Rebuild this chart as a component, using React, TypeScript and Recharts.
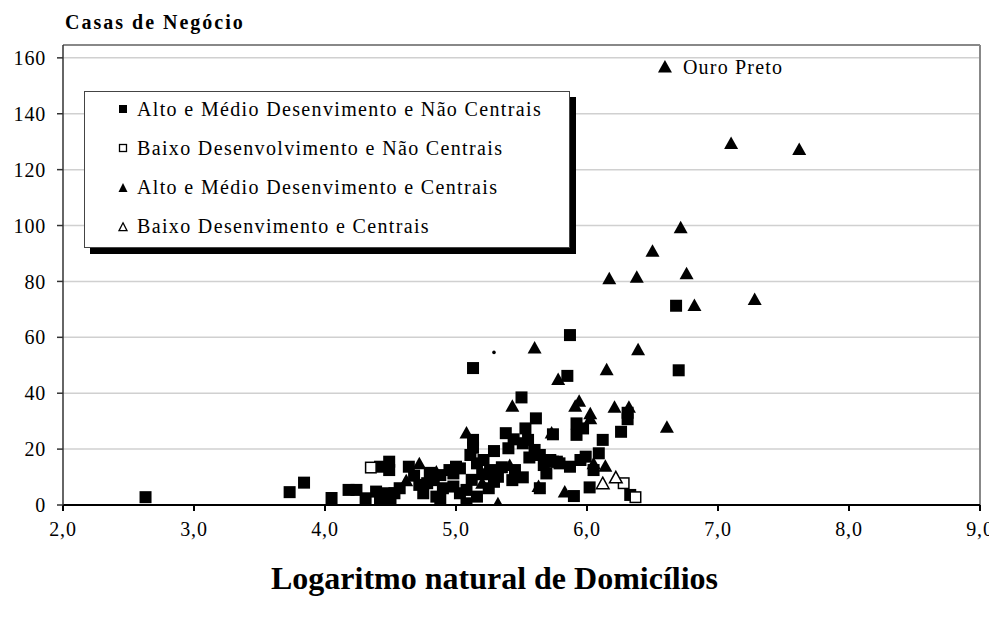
import React from "react";
import {
  ScatterChart,
  Scatter,
  XAxis,
  YAxis,
  CartesianGrid,
  ReferenceLine,
} from "recharts";

// ---- data: [ln(domicílios), casas de negócio] ----
const altoNaoCentrais: [number, number][] = [
  [2.63, 2.8], [3.73, 4.6], [3.84, 8.0], [4.05, 2.5], [4.18, 5.4], [4.24, 5.4],
  [4.31, 2.4], [4.39, 4.8], [4.42, 1.8], [4.42, 13.7], [4.49, 15.5], [4.49, 12.5],
  [4.48, 4.2], [4.5, 1.2], [4.53, 4.2], [4.57, 6.0], [4.64, 13.7], [4.68, 10.5],
  [4.72, 7.2], [4.75, 4.2], [4.78, 7.8], [4.8, 11.5], [4.83, 8.9], [4.85, 3.0],
  [4.88, 1.8], [4.88, 10.7], [4.9, 6.0], [4.95, 12.5], [4.98, 11.3], [4.98, 6.6],
  [5.0, 13.7], [5.03, 13.1], [5.03, 4.2], [5.08, 5.4], [5.08, 0.6], [5.11, 17.9],
  [5.13, 23.3], [5.13, 49.0], [5.13, 20.5], [5.16, 14.9], [5.16, 3.0], [5.12, 9.0],
  [5.21, 16.1], [5.2, 11.0], [5.26, 12.5], [5.25, 6.0], [5.29, 19.3], [5.29, 8.3],
  [5.32, 10.1], [5.35, 13.5], [5.38, 25.7], [5.4, 20.3], [5.43, 8.9], [5.44, 23.5],
  [5.45, 12.5], [5.5, 38.5], [5.51, 22.1], [5.51, 9.9], [5.53, 27.4], [5.55, 23.3],
  [5.56, 17.0], [5.6, 19.7], [5.61, 31.0], [5.64, 17.9], [5.64, 6.0], [5.67, 14.3],
  [5.69, 11.3], [5.72, 16.1], [5.74, 15.5], [5.74, 25.3], [5.77, 15.5], [5.79, 14.9],
  [5.85, 46.2], [5.87, 60.8], [5.87, 13.7], [5.9, 3.2], [5.92, 29.2], [5.92, 25.1],
  [5.95, 16.1], [5.97, 27.4], [5.99, 17.3], [6.02, 6.3], [6.05, 12.5], [6.09, 18.5],
  [6.12, 23.3], [6.26, 26.2], [6.31, 30.7], [6.31, 33.0], [6.33, 3.6], [6.68, 71.3],
  [6.7, 48.2],
];

const baixoNaoCentrais: [number, number][] = [
  [4.35, 13.4], [6.28, 7.8], [6.37, 2.8],
];

const altoCentrais: [number, number][] = [
  [4.62, 8.9], [4.72, 14.9], [4.85, 12.0], [5.08, 25.9], [5.2, 8.0], [5.32, 0.6],
  [5.41, 14.3], [5.43, 35.5], [5.6, 56.4], [5.63, 6.8], [5.73, 25.9], [5.78, 45.1],
  [5.83, 4.8], [5.91, 35.5], [5.94, 37.3], [6.025, 32.8], [6.025, 31.0], [6.05, 14.9],
  [6.14, 14.0], [6.15, 48.6], [6.17, 81.1], [6.21, 35.2], [6.32, 35.2], [6.38, 81.7],
  [6.39, 55.7], [6.5, 91.0], [6.61, 28.0], [6.715, 99.4], [6.76, 82.9], [6.82, 71.6],
  [7.1, 129.5], [7.28, 73.7], [7.62, 127.4],
];

const baixoCentrais: [number, number][] = [
  [6.12, 7.8], [6.22, 9.9],
];

const ouroPreto: [number, number] = [6.595, 156.9];
const ouroPretoName = "Ouro Preto";
const strayDot: [number, number][] = [[5.29, 54.6]];

const xTicks = [2, 3, 4, 5, 6, 7, 8, 9];
const yTicks = [0, 20, 40, 60, 80, 100, 120, 140, 160];

const legendLabels = [
  "Alto e Médio Desenvimento e Não Centrais",
  "Baixo Desenvolvimento e Não Centrais",
  "Alto e Médio Desenvimento e Centrais",
  "Baixo Desenvimento e Centrais",
];

const chartTitle = "Casas de Negócio";
const xTitle = "Logaritmo natural de Domicílios";

const toPts = (arr: [number, number][]) => arr.map(([x, y]) => ({ x, y }));

const FONT = "Liberation Serif, Tinos, DejaVu Serif, serif";

const FilledSquare = (p: any) => (
  <rect x={p.cx - 6} y={p.cy - 6} width={12} height={12} fill="#000" />
);
const OpenSquare = (p: any) => (
  <rect x={p.cx - 5.25} y={p.cy - 5.25} width={10.5} height={10.5} fill="#fff" stroke="#000" strokeWidth={1.5} />
);
const FilledTri = (p: any) => (
  <path d={`M${p.cx},${p.cy - 6.5} L${p.cx + 7},${p.cy + 6} L${p.cx - 7},${p.cy + 6} Z`} fill="#000" />
);
const OpenTri = (p: any) => (
  <path d={`M${p.cx},${p.cy - 6} L${p.cx + 6.3},${p.cy + 5.5} L${p.cx - 6.3},${p.cy + 5.5} Z`} fill="#fff" stroke="#000" strokeWidth={1.5} />
);
const Dot = (p: any) => <circle cx={p.cx} cy={p.cy} r={1.8} fill="#000" />;
const OuroShape = (p: any) => (
  <g>
    <path d={`M${p.cx},${p.cy - 6.5} L${p.cx + 7},${p.cy + 6} L${p.cx - 7},${p.cy + 6} Z`} fill="#000" />
    <text x={p.cx + 18} y={p.cy + 7} style={{ fontFamily: FONT }} fontSize={20} letterSpacing={1.2} fill="#000">
      {ouroPretoName}
    </text>
  </g>
);

const LegendIcon = ({ i }: { i: number }) => {
  if (i === 0) return <rect x={2} y={2} width={8} height={8} fill="#000" />;
  if (i === 1) return <rect x={2.5} y={2.5} width={7} height={7} fill="#fff" stroke="#000" strokeWidth={1.3} />;
  if (i === 2) return <path d="M6,1 L10.5,10 L1.5,10 Z" fill="#000" />;
  return <path d="M6,1.8 L10,9.6 L2,9.6 Z" fill="#fff" stroke="#000" strokeWidth={1.3} />;
};

const tickStyle = { fontFamily: FONT, fontSize: 20, fill: "#000", letterSpacing: 0.8 } as any;

export default function App() {
  return (
    <div style={{ position: "relative", width: 989, height: 610, background: "#fff", fontFamily: FONT }}>
      <style>{`html,body{overflow:hidden} .recharts-surface{overflow:visible}`}</style>
      <div
        style={{
          position: "absolute", left: 57, top: 4, fontWeight: "bold", fontSize: 20,
          letterSpacing: 2, lineHeight: "20px", whiteSpace: "nowrap",
        }}
      >
        {chartTitle}
      </div>
      <ScatterChart width={989} height={610} margin={{ top: 37, right: 17, bottom: 83, left: 0 }} style={{ fontFamily: FONT }}>
        <CartesianGrid horizontal vertical={false} stroke="#d0d0d0" strokeWidth={1.5} />
        <XAxis
          type="number" dataKey="x" domain={[2, 9]} ticks={xTicks} interval={0}
          tickFormatter={(v: number) => v.toFixed(1).replace(".", ",")}
          height={30} tickSize={6} tickMargin={11}
          stroke="#000" strokeWidth={2} tick={tickStyle} allowDataOverflow
        />
        <YAxis
          type="number" dataKey="y" domain={[0, 164.6]} ticks={yTicks} interval={0}
          width={55} tickSize={6} tickMargin={11}
          stroke="#333" strokeWidth={1.5} tick={tickStyle} allowDataOverflow
        />
        <ReferenceLine y={164.6} stroke="#888" strokeWidth={2} />
        <ReferenceLine x={9} stroke="#888" strokeWidth={2} />
        <Scatter data={toPts(altoNaoCentrais)} shape={FilledSquare} isAnimationActive={false} />
        <Scatter data={toPts(baixoNaoCentrais)} shape={OpenSquare} isAnimationActive={false} />
        <Scatter data={toPts(altoCentrais)} shape={FilledTri} isAnimationActive={false} />
        <Scatter data={toPts(baixoCentrais)} shape={OpenTri} isAnimationActive={false} />
        <Scatter data={toPts([ouroPreto])} shape={OuroShape} isAnimationActive={false} />
        <Scatter data={toPts(strayDot)} shape={Dot} isAnimationActive={false} />
      </ScatterChart>
      <div
        style={{
          position: "absolute", left: 76, top: 83, width: 486, height: 157,
          border: "1px solid #444", background: "#fff", boxShadow: "6px 6px 0 #000",
          boxSizing: "border-box",
        }}
      >
        {legendLabels.map((l, i) => (
          <div
            key={i}
            style={{
              position: "absolute", left: 32, top: 5 + i * 39.3, height: 24,
              display: "flex", alignItems: "center", whiteSpace: "nowrap",
              fontSize: 20, letterSpacing: 1.35,
            }}
          >
            <svg width={12} height={12} style={{ marginRight: 8 }}>
              <LegendIcon i={i} />
            </svg>
            <span>{l}</span>
          </div>
        ))}
      </div>
      <div
        style={{
          position: "absolute", left: -8, width: 989, top: 554, textAlign: "center",
          fontWeight: "bold", fontSize: 32, lineHeight: "32px", whiteSpace: "nowrap",
        }}
      >
        {xTitle}
      </div>
    </div>
  );
}
